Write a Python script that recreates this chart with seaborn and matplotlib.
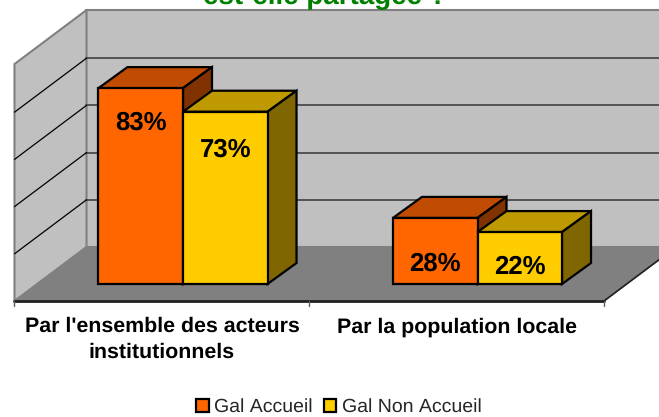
import matplotlib
matplotlib.use('Agg')
import pandas as pd
import seaborn as sns
import matplotlib.pyplot as plt
from matplotlib.patches import Polygon

# DATA

categories = ["Par l'ensemble des acteurs\ninstitutionnels", "Par la population locale"]
series_names = ['Gal Accueil', 'Gal Non Accueil']
accueil = [83, 28]
non_accueil = [73, 22]
colours = ['#FF6600', '#FFCC00']
top_colours = ['#BF4C00', '#BF9900']
side_colours = ['#803300', '#806600']
label_drop = [[35, 46], [38, 35]]  # pixels from top of bar to label centre

df = pd.DataFrame({
    'cat': categories * 2,
    'serie': [series_names[0]] * 2 + [series_names[1]] * 2,
    'val': accueil + non_accueil,
})

# PIXEL SCALES OF THE FRONT PLANE OF THE BARS

W, H = 659, 417
cat_px = 294.5
val_px = 2.36
x0_px = 183      # centre of first category
y0_px = 284      # base of the bars


def data_x(px):
    return (px - x0_px) / cat_px


def data_y(px):
    return (y0_px - px) / val_px


sns.set_theme(style='white')
plt.rcParams['font.family'] = ['Liberation Sans', 'DejaVu Sans']
plt.rcParams['text.hinting'] = 'no_hinting'
plt.rcParams['text.kerning_factor'] = 6

fig = plt.figure(figsize=(W / 100, H / 100), dpi=100)
ax = fig.add_axes([0, 0, 1, 1])

# WALLS AND FLOOR

wall_grey = '#C0C0C0'
edge_grey = '#808080'
fx0, fx1, fy = data_x(14.5), data_x(604), data_y(301)
dx, dy = 72 / cat_px, 54 / val_px
full = 100.4

ax.add_patch(Polygon([(fx0 + dx, fy + dy), (data_x(W + 30), fy + dy), (data_x(W + 30), fy + dy + full),
                      (fx0 + dx, fy + dy + full)], fc=wall_grey, ec=edge_grey, lw=1.5, zorder=0))
ax.add_patch(Polygon([(fx0, fy), (fx0 + dx, fy + dy), (fx0 + dx, fy + dy + full), (fx0, fy + full)],
                     fc=wall_grey, ec=edge_grey, lw=1.5, zorder=0.1))
ax.add_patch(Polygon([(fx0, fy), (fx1, fy), (fx1 + dx, fy + dy), (fx0 + dx, fy + dy)],
                     fc=edge_grey, ec=edge_grey, lw=1, zorder=0.2))

for g in [20, 40, 60, 80]:
    yb = fy + dy + g
    ax.plot([fx0 + dx, data_x(W + 30)], [yb, yb], color='#404040', lw=1.2, zorder=0.3)
    ax.plot([fx0, fx0 + dx], [fy + g, yb], color='black', lw=0.9, zorder=0.3)

ax.plot([fx0, fx1], [fy, fy], color='#202020', lw=2, zorder=0.4)
ax.plot([fx1, fx1 + dx], [fy, fy + dy], color='#202020', lw=1.2, zorder=0.4)
for i in range(3):
    tx = fx0 + i * (fx1 - fx0) / 2
    ax.plot([tx, tx], [fy, fy - 5 / val_px], color='#606060', lw=1, zorder=0.4)

# BARS

sns.barplot(data=df, x='cat', y='val', hue='serie', hue_order=series_names, palette=colours,
            width=0.574, gap=0, saturation=1, edgecolor='black', linewidth=1.6, ax=ax)
ax.set_xlim(data_x(0), data_x(W))
ax.set_ylim(data_y(H), data_y(0))
ax.axis('off')

bdx, bdy = 29 / cat_px, 21 / val_px
for s, cont in enumerate(ax.containers):
    for c, bar in enumerate(cont):
        z = 2 + s * 2 + c * 0.1
        x, w, h = bar.get_x(), bar.get_width(), bar.get_height()
        bar.set_zorder(z + 1)
        ax.add_patch(Polygon([(x, h), (x + w, h), (x + w + bdx, h + bdy), (x + bdx, h + bdy)],
                             fc=top_colours[s], ec='black', lw=1.6, zorder=z))
        ax.add_patch(Polygon([(x + w, 0), (x + w + bdx, bdy), (x + w + bdx, h + bdy), (x + w, h)],
                             fc=side_colours[s], ec='black', lw=1.6, zorder=z))
        ax.text(x + w / 2, h - label_drop[s][c] / val_px, f'{h:.0f}%', ha='center', va='center',
                fontsize=18.5, fontweight='bold', color='black', zorder=10)

# TEXTS

for i, cat in enumerate(categories):
    ax.text(data_x(162 + i * cat_px), data_y(317), cat, ha='center', va='top', fontsize=15.4,
            fontweight='bold', color='black', linespacing=1.4)

fig.text(325 / W, 1 - 4 / H, 'est-elle partagée ?', ha='center', va='baseline', fontsize=20,
         fontweight='bold', color='#008000')

sns.move_legend(ax, 'center', bbox_to_anchor=(339 / W, 1 - 407 / H), bbox_transform=fig.transFigure,
                ncol=2, frameon=False, title=None, fontsize=14, handlelength=0.65, handleheight=0.65,
                handletextpad=0.3, columnspacing=0.55, borderpad=0)

fig.savefig('out.png', dpi=100)
